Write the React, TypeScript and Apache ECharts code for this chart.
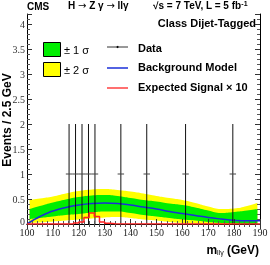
import React, { useEffect, useRef } from 'react';
import * as echarts from 'echarts';

// Data points (bin centres, GeV) and counts with error-bar extents
const dataX = [116.25, 118.75, 121.25, 123.75, 126.25, 136.25, 146.25, 161.25, 179.5];
const dataY = [1, 1, 1, 1, 1, 1, 1, 1, 1];
const dataErrDown = [1, 1, 1, 1, 1, 1, 1, 1, 1];
const dataErrUp = [1, 1, 1, 1, 1, 1, 1, 1, 1];
const dataBinWidth = 2.5;

// Background model curve
const bkgX = [100, 102.5, 105, 107.5, 110, 115, 120, 125, 130, 135, 140, 145, 150, 155, 160, 165, 170, 175, 180, 185, 190];
const bkgY = [0.0, 0.08, 0.15, 0.21, 0.26, 0.33, 0.38, 0.41, 0.42, 0.41, 0.38, 0.34, 0.30, 0.25, 0.21, 0.17, 0.13, 0.10, 0.075, 0.065, 0.065];

// Uncertainty bands
const bandX = [101, 105, 110, 115, 120, 125, 130, 135, 140, 145, 150, 155, 160, 165, 170, 175, 180, 185, 189];
const band2Hi = [0.48, 0.51, 0.55, 0.61, 0.66, 0.69, 0.70, 0.68, 0.65, 0.61, 0.56, 0.52, 0.48, 0.42, 0.35, 0.30, 0.31, 0.36, 0.42];
const band1Hi = [0.30, 0.36, 0.43, 0.49, 0.54, 0.57, 0.58, 0.56, 0.52, 0.48, 0.45, 0.41, 0.38, 0.33, 0.27, 0.22, 0.24, 0.27, 0.30];
const band1Lo = [0.10, 0.12, 0.15, 0.18, 0.20, 0.23, 0.25, 0.25, 0.22, 0.18, 0.15, 0.12, 0.09, 0.07, 0.04, 0.02, 0.01, 0.0, 0.0];
const band2Lo = [0.02, 0.03, 0.05, 0.07, 0.09, 0.11, 0.13, 0.14, 0.12, 0.09, 0.07, 0.04, 0.02, 0.01, 0.0, 0.0, 0.0, 0.0, 0.0];

// Expected signal x10 (histogram, left bin edges)
const sigEdges = [100, 116, 118, 120, 122, 124, 126, 128, 130, 132, 134, 190];
const sigValues = [0, 0.005, 0.02, 0.04, 0.13, 0.22, 0.15, 0.04, 0.015, 0.005, 0, 0];

const SANS = 'Liberation Sans, Arial, sans-serif';
const SERIF = 'Liberation Serif, Times New Roman, serif';
const ARROW = 'DejaVu Sans, sans-serif';

export default function App() {
  const ref = useRef<HTMLDivElement>(null);
  useEffect(() => {
    if (!ref.current) return;
    const chart = echarts.init(ref.current, null, { renderer: 'svg' });

    const zip = (xs: number[], ys: number[]) => xs.map((x, i) => [x, ys[i]]);

    const tickCommon = {
      z: 10,
      axisLine: { show: true, lineStyle: { color: '#000', width: 1 } },
      axisTick: { show: true, inside: true, length: 5, lineStyle: { color: '#333' } },
      minorTick: { show: true, splitNumber: 5, length: 3, lineStyle: { color: '#555' } },
      splitLine: { show: false },
      minorSplitLine: { show: false },
    };

    // Band layers: each filled from the curve down to zero, painted in order
    const bandLayer = (ys: number[], color: string, z: number) => ({
      type: 'line', data: zip(bandX, ys), smooth: true, symbol: 'none', silent: true, z,
      lineStyle: { width: 0, opacity: 0 },
      areaStyle: { color, opacity: 1 },
    });

    chart.setOption({
      animation: false,
      grid: { left: 27, right: 10, top: 14, bottom: 41, containLabel: false, outerBoundsMode: 'none' },
      xAxis: [
        {
          type: 'value', min: 100, max: 190, interval: 10, position: 'bottom',
          ...tickCommon,
          axisLabel: { fontFamily: SERIF, fontSize: 10, color: '#222', margin: 3 },
        },
        {
          type: 'value', min: 100, max: 190, interval: 10, position: 'top',
          ...tickCommon,
          axisLabel: { show: false },
        },
      ],
      yAxis: [
        {
          type: 'value', min: 0, max: 4.2, interval: 0.5, position: 'left',
          ...tickCommon,
          axisLabel: {
            fontFamily: SERIF, fontSize: 10, color: '#333', margin: 2, showMaxLabel: false,
            formatter: (v: number) => (v === 0 ? '{z|0}' : String(v)),
            rich: { z: { fontFamily: SERIF, fontSize: 10, color: '#333', padding: [0, 0, 5, 0] } },
          },
        },
        {
          type: 'value', min: 0, max: 4.2, interval: 0.5, position: 'right',
          ...tickCommon,
          axisLabel: { show: false },
        },
      ],
      series: [
        bandLayer(band2Hi, '#ffff00', 1),
        bandLayer(band1Hi, '#00ee00', 2),
        bandLayer(band1Lo, '#ffff00', 3),
        bandLayer(band2Lo, '#ffffff', 4),
        {
          type: 'line', data: zip(bkgX, bkgY), smooth: true, symbol: 'none', z: 5,
          lineStyle: { color: '#1a2fd8', width: 1.5 },
        },
        {
          type: 'custom', z: 6,
          data: dataX.map((x, i) => [x, dataY[i], dataY[i] - dataErrDown[i], dataY[i] + dataErrUp[i]]),
          encode: { x: 0, y: 1 },
          renderItem: (params: any, api: any) => {
            const x = api.value(0), y = api.value(1), lo = api.value(2), hi = api.value(3);
            const pLo = api.coord([x, lo]);
            const pHi = api.coord([x, hi]);
            const pL = api.coord([x - dataBinWidth / 2, y]);
            const pR = api.coord([x + dataBinWidth / 2, y]);
            return {
              type: 'group',
              children: [
                { type: 'line', shape: { x1: pLo[0], y1: pLo[1], x2: pHi[0], y2: pHi[1] }, style: { stroke: '#111', lineWidth: 1 } },
                { type: 'line', shape: { x1: pL[0], y1: pL[1], x2: pR[0], y2: pR[1] }, style: { stroke: '#444', lineWidth: 1 } },
              ],
            };
          },
        },
        {
          type: 'line', data: zip(sigEdges, sigValues), step: 'end', symbol: 'none', z: 12,
          lineStyle: { color: '#ff2020', width: 1.5 },
        },
      ],
      graphic: [
        {
          type: 'text', x: 7, y: 120, rotation: Math.PI / 2,
          style: { text: 'Events / 2.5 GeV', font: `bold 12px ${SANS}`, fill: '#000', align: 'center', verticalAlign: 'middle' },
        },
        { type: 'text', left: 27, top: 1, style: { text: 'CMS', font: `bold 10px ${SANS}`, fill: '#000' } },
        {
          type: 'text', left: 68, top: 0,
          style: {
            text: '{a|H }{r|→}{a| Z γ }{r|→}{a| llγ}',
            rich: {
              a: { font: `bold 10px ${SANS}`, fill: '#000' },
              r: { font: `10px ${ARROW}`, fill: '#000' },
            },
          },
        },
        {
          type: 'text', left: 153, top: 0,
          style: {
            text: '{a|√s = 7 TeV, L = 5 fb}{s|-1}',
            rich: {
              a: { font: `bold 10px ${SANS}`, fill: '#000' },
              s: { font: `bold 7px ${SANS}`, fill: '#000', verticalAlign: 'top', padding: [0, 0, 4, 0] },
            },
          },
        },
        { type: 'text', x: 256, y: 23, style: { text: 'Class Dijet-Tagged', font: `bold 11px ${SANS}`, fill: '#000', align: 'right', verticalAlign: 'middle' } },
        // legend
        { type: 'rect', shape: { x: 43.5, y: 42.5, width: 17, height: 14 }, style: { fill: '#00ee00', stroke: '#000', lineWidth: 1 } },
        { type: 'text', x: 64, y: 50, style: { text: '± 1 σ', font: `11px ${SANS}`, fill: '#000', verticalAlign: 'middle' } },
        { type: 'rect', shape: { x: 43.5, y: 62.5, width: 17, height: 14 }, style: { fill: '#ffff00', stroke: '#000', lineWidth: 1 } },
        { type: 'text', x: 64, y: 70, style: { text: '± 2 σ', font: `11px ${SANS}`, fill: '#000', verticalAlign: 'middle' } },
        { type: 'line', shape: { x1: 107, y1: 47, x2: 128, y2: 47 }, style: { stroke: '#333', lineWidth: 1 } },
        { type: 'circle', shape: { cx: 117.5, cy: 47, r: 1 }, style: { fill: '#000' } },
        { type: 'text', x: 138, y: 48, style: { text: 'Data', font: `bold 11px ${SANS}`, fill: '#000', verticalAlign: 'middle' } },
        { type: 'line', shape: { x1: 107, y1: 68, x2: 128, y2: 68 }, style: { stroke: '#1a2fd8', lineWidth: 1.5 } },
        { type: 'text', x: 138, y: 67, style: { text: 'Background Model', font: `bold 11px ${SANS}`, fill: '#000', verticalAlign: 'middle' } },
        { type: 'line', shape: { x1: 107, y1: 88, x2: 128, y2: 88 }, style: { stroke: '#ff7070', lineWidth: 2 } },
        { type: 'text', x: 138, y: 87, style: { text: 'Expected Signal × 10', font: `bold 11px ${SANS}`, fill: '#000', verticalAlign: 'middle' } },
        // x axis title
        {
          type: 'text', x: 259, y: 256,
          style: {
            text: '{m|m}{s|llγ}{m| (GeV)}',
            align: 'right', verticalAlign: 'bottom',
            rich: {
              m: { font: `bold 12px ${SANS}`, fill: '#000' },
              s: { font: `7px ${SANS}`, fill: '#000', verticalAlign: 'bottom' },
            },
          },
        },
      ],
    });
    return () => chart.dispose();
  }, []);
  return <div ref={ref} style={{ position: 'fixed', left: 0, top: 0, width: 270, height: 265 }} />;
}
